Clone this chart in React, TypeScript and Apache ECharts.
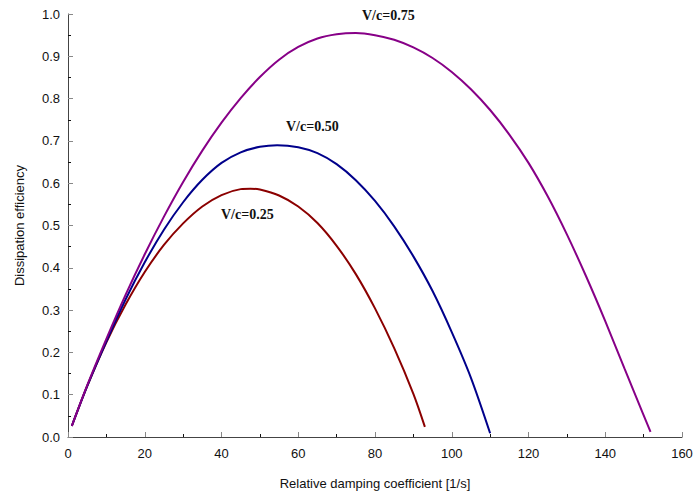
import React, { useEffect, useRef } from "react";
import * as echarts from "echarts";

const xTicks = [0, 20, 40, 60, 80, 100, 120, 140, 160];
const yTicks = [0, 0.1, 0.2, 0.3, 0.4, 0.5, 0.6, 0.7, 0.8, 0.9, 1.0];

const seriesNames = ["V/c=0.25", "V/c=0.50", "V/c=0.75"];

const x025 = [1, 5, 10, 15, 20, 25, 30, 35, 40, 45, 47.5, 50, 55, 60, 65, 70, 75, 80, 85, 90, 93];
const y025 = [0.026, 0.12, 0.224, 0.313, 0.39, 0.454, 0.505, 0.545, 0.572, 0.586, 0.587, 0.585, 0.571, 0.545, 0.506, 0.452, 0.385, 0.304, 0.21, 0.102, 0.024];

const x050 = [1, 5, 10, 15, 20, 25, 30, 35, 40, 45, 50, 54.5, 60, 65, 70, 75, 80, 85, 90, 95, 100, 105, 110];
const y050 = [0.026, 0.12, 0.226, 0.325, 0.413, 0.49, 0.555, 0.608, 0.648, 0.673, 0.686, 0.69, 0.685, 0.671, 0.645, 0.607, 0.558, 0.498, 0.427, 0.345, 0.248, 0.14, 0.009];

const x075 = [1, 5, 10, 15, 20, 25, 30, 35, 40, 45, 50, 55, 60, 65, 70, 75, 80, 85, 90, 95, 100, 105, 110, 115, 120, 125, 130, 135, 140, 145, 149.8, 151.8];
const y075 = [0.026, 0.122, 0.232, 0.336, 0.432, 0.521, 0.603, 0.677, 0.743, 0.801, 0.851, 0.892, 0.922, 0.942, 0.952, 0.955, 0.95, 0.939, 0.921, 0.896, 0.863, 0.822, 0.773, 0.715, 0.648, 0.569, 0.479, 0.38, 0.274, 0.162, 0.056, 0.012];

const colors = ["#8b0000", "#00008b", "#870087"];

const zip = (xs: number[], ys: number[]) => xs.map((x, i) => [x, ys[i]]);

export default function App() {
  const ref = useRef<HTMLDivElement>(null);
  useEffect(() => {
    if (!ref.current) return;
    const chart = echarts.init(ref.current, null, { renderer: "svg" });
    const data = [zip(x025, y025), zip(x050, y050), zip(x075, y075)];
    const labelStyle = {
      fontFamily: "'Liberation Serif', 'Times New Roman', serif",
      fontWeight: "bold" as const,
      fontSize: 14,
      fill: "#111",
    };
    chart.setOption({
      animation: false,
      backgroundColor: "#ffffff",
      grid: { left: 68, right: 15, top: 14, bottom: 60, containLabel: false },
      xAxis: {
        type: "value",
        min: xTicks[0],
        max: xTicks[xTicks.length - 1],
        interval: 20,
        name: "Relative damping coefficient [1/s]",
        nameLocation: "middle",
        nameGap: 40,
        nameTextStyle: { fontFamily: "'Liberation Sans', Arial, sans-serif", fontSize: 13, color: "#111" },
        axisLine: { lineStyle: { color: "#444", width: 1 } },
        axisTick: { inside: true, length: 5, lineStyle: { color: "#888" } },
        minorTick: { show: true, splitNumber: 2, length: 3, lineStyle: { color: "#111" } },
        axisLabel: { margin: 10, fontFamily: "'Liberation Sans', Arial, sans-serif", fontSize: 13, color: "#111" },
        splitLine: { show: false },
      },
      yAxis: {
        type: "value",
        min: yTicks[0],
        max: yTicks[yTicks.length - 1],
        interval: 0.1,
        name: "Dissipation efficiency",
        nameLocation: "middle",
        nameGap: 42,
        nameTextStyle: { fontFamily: "'Liberation Sans', Arial, sans-serif", fontSize: 13, color: "#111" },
        axisLine: { show: true, lineStyle: { color: "#444", width: 1 } },
        axisTick: { show: true, inside: true, length: 5, lineStyle: { color: "#888" } },
        minorTick: { show: true, splitNumber: 2, length: 3, lineStyle: { color: "#111" } },
        axisLabel: {
          margin: 8,
          fontFamily: "'Liberation Sans', Arial, sans-serif",
          fontSize: 13,
          color: "#111",
          formatter: (v: number) => v.toFixed(1),
        },
        splitLine: { show: false },
      },
      series: seriesNames.map((name, i) => ({
        name,
        type: "line",
        data: data[i],
        smooth: 0.3,
        showSymbol: false,
        symbol: "none",
        lineStyle: { color: colors[i], width: 2 },
      })),
      graphic: [
        { type: "text", left: 221, top: 207, style: { ...labelStyle, text: seriesNames[0] } },
        { type: "text", left: 286, top: 119, style: { ...labelStyle, text: seriesNames[1] } },
        { type: "text", left: 362, top: 8, style: { ...labelStyle, text: seriesNames[2] } },
      ],
    });
    return () => chart.dispose();
  }, []);
  return (
    <div
      ref={ref}
      style={{ position: "fixed", left: 0, top: 0, width: 697, height: 497, background: "#fff" }}
    />
  );
}
